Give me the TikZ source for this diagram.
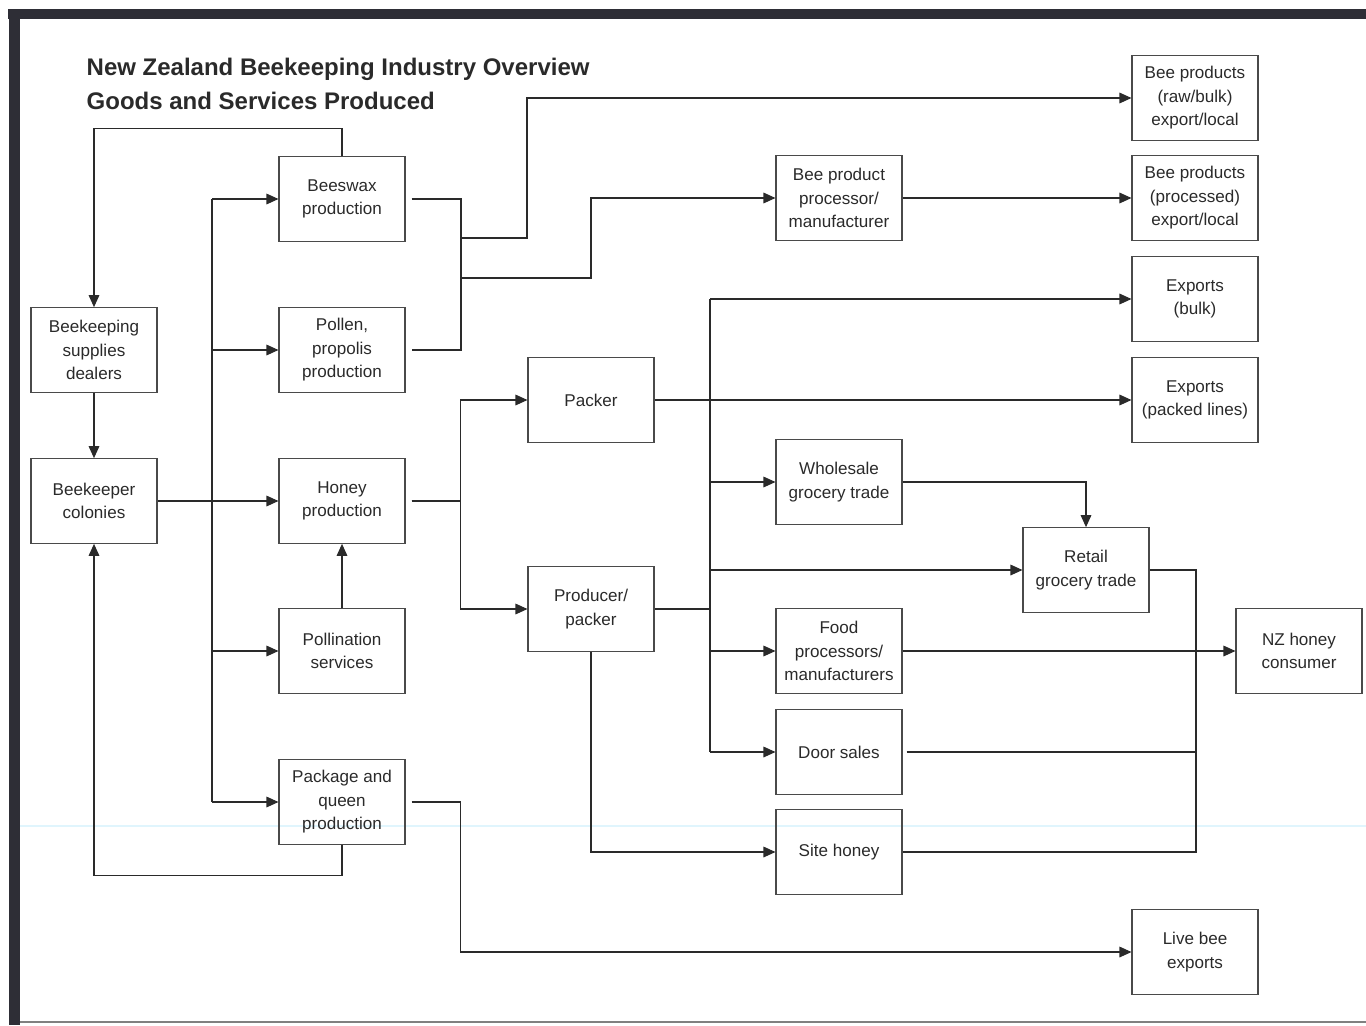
\documentclass[tikz,border=0pt]{standalone}
\usepackage{fontspec}
\setmainfont{Liberation Sans}
\usetikzlibrary{arrows.meta}
\definecolor{inkcol}{HTML}{2A2A2A}
\definecolor{edgecol}{HTML}{4A4A4A}
\definecolor{framecol}{HTML}{2E2E36}
\begin{document}
\begin{tikzpicture}[
        x=0.75pt, y=-0.75pt,
        box/.style={draw=edgecol, line width=0.8pt, align=center, text=inkcol,
            font=\fontsize{12.8}{17.6}\selectfont, inner sep=0pt,
            minimum width=94.5pt, minimum height=63.5pt},
        line/.style={draw=inkcol, line width=0.8pt},
        arr/.style={line, -{Triangle[length=9pt,width=8pt]}}
    ]
    \useasboundingbox (0,0) rectangle (1366,1025);
    % scanned page frame
    \fill[framecol] (8,9) rectangle (1366,19);
    \fill[framecol] (9,9) rectangle (20,1025);
    \draw[gray, line width=1pt] (20,1022) -- (1366,1022);
    \draw[cyan!12, line width=1.5pt] (20,826) -- (1366,826);

    \node[anchor=west, align=left, text=inkcol, font=\fontsize{18}{25.5}\selectfont\bfseries] (title) at (82,84)
        {New Zealand Beekeeping Industry Overview\\Goods and Services Produced};

    % left column
    \node[box] (supplies) at (94,350) {Beekeeping\\supplies\\dealers};
    \node[box] (colonies) at (94,501) {Beekeeper\\colonies};
    \node[box] (beeswax) at (342,199) {Beeswax\\production};
    \node[box] (pollen) at (342,350) {Pollen,\\propolis\\production};
    \node[box] (honey) at (342,501) {Honey\\production};
    \node[box] (pollination) at (342,651) {Pollination\\services};
    \node[box] (package) at (342,802) {Package and\\queen\\production};

    % middle
    \node[box] (packer) at (591,400) {Packer};
    \node[box] (prodpacker) at (591,609) {Producer/\\packer};
    \node[box] (processor) at (839,198) {Bee product\\processor/\\manufacturer};
    \node[box] (wholesale) at (839,482) {Wholesale\\grocery trade};
    \node[box] (food) at (839,651) {Food\\processors/\\manufacturers};
    \node[box] (doorsales) at (839,752) {Door sales};
    \node[box] (sitehoney) at (839,852) {Site honey};
    \node[box] (retail) at (1086,570) {Retail\\grocery trade};

    % outlets
    \node[box] (raw) at (1195,98) {Bee products\\(raw/bulk)\\export/local};
    \node[box] (processed) at (1195,198) {Bee products\\(processed)\\export/local};
    \node[box] (expbulk) at (1195,299) {Exports\\(bulk)};
    \node[box] (explines) at (1195,400) {Exports\\(packed lines)};
    \node[box] (consumer) at (1299,651) {NZ honey\\consumer};
    \node[box] (livebee) at (1195,952) {Live bee\\exports};

    \coordinate (lbus) at (212,0);
    \coordinate (wbus) at (461,0);
    \coordinate (rbus) at (710,0);
    \coordinate (cbus) at (1196,0);
    \coordinate (rawturn) at (527,238);
    \coordinate (procturn) at (591,278);

    % colonies and supplies
    \draw[arr] (beeswax.north) -- ++(0,-28) -| (supplies.north);
    \draw[arr] (supplies) -- (colonies);
    \draw[arr] (colonies) -- (honey);
    \draw[line] (lbus |- beeswax.west) -- (lbus |- package.west);
    \foreach \n in {beeswax,pollen,pollination,package}
        \draw[arr] (lbus |- \n.west) -- (\n.west);
    \draw[arr] (pollination) -- (honey);
    \draw[arr] (package.south) -- ++(0,31) -| (colonies.south);

    % wax, pollen and propolis
    \draw[line, shorten <=4.5pt, shorten >=4.5pt] (beeswax.east) -- (wbus |- beeswax.east) -- (wbus |- pollen.east) -- (pollen.east);
    \draw[arr] (wbus |- rawturn) -- (rawturn) |- (raw.west);
    \draw[arr] (wbus |- procturn) -- (procturn) |- (processor.west);
    \draw[arr] (processor) -- (processed);

    % honey
    \draw[arr, shorten <=4.5pt] (honey.east) -- ++(55,0) |- (packer.west);
    \draw[arr, shorten <=4.5pt] (honey.east) -- ++(55,0) |- (prodpacker.west);
    \draw[arr] (packer) -- (explines);
    \draw[line] (prodpacker.east) -- (rbus |- prodpacker.east);
    \draw[line] (rbus |- expbulk.west) -- (rbus |- doorsales.west);
    \foreach \n in {expbulk,wholesale,retail,food,doorsales}
        \draw[arr] (rbus |- \n.west) -- (\n.west);
    \draw[arr] (prodpacker.south) |- (sitehoney.west);
    \draw[arr] (wholesale.east) -| (retail.north);

    % to the consumer
    \draw[line] (retail.east) -| (cbus |- sitehoney.east) -- (sitehoney.east);
    \draw[line, shorten <=3pt] (doorsales.east) -- (cbus |- doorsales.east);
    \draw[arr] (food) -- (consumer);

    % live bees
    \draw[arr, shorten <=4.5pt] (package.east) -- ++(55,0) |- (livebee.west);
\end{tikzpicture}
\end{document}
